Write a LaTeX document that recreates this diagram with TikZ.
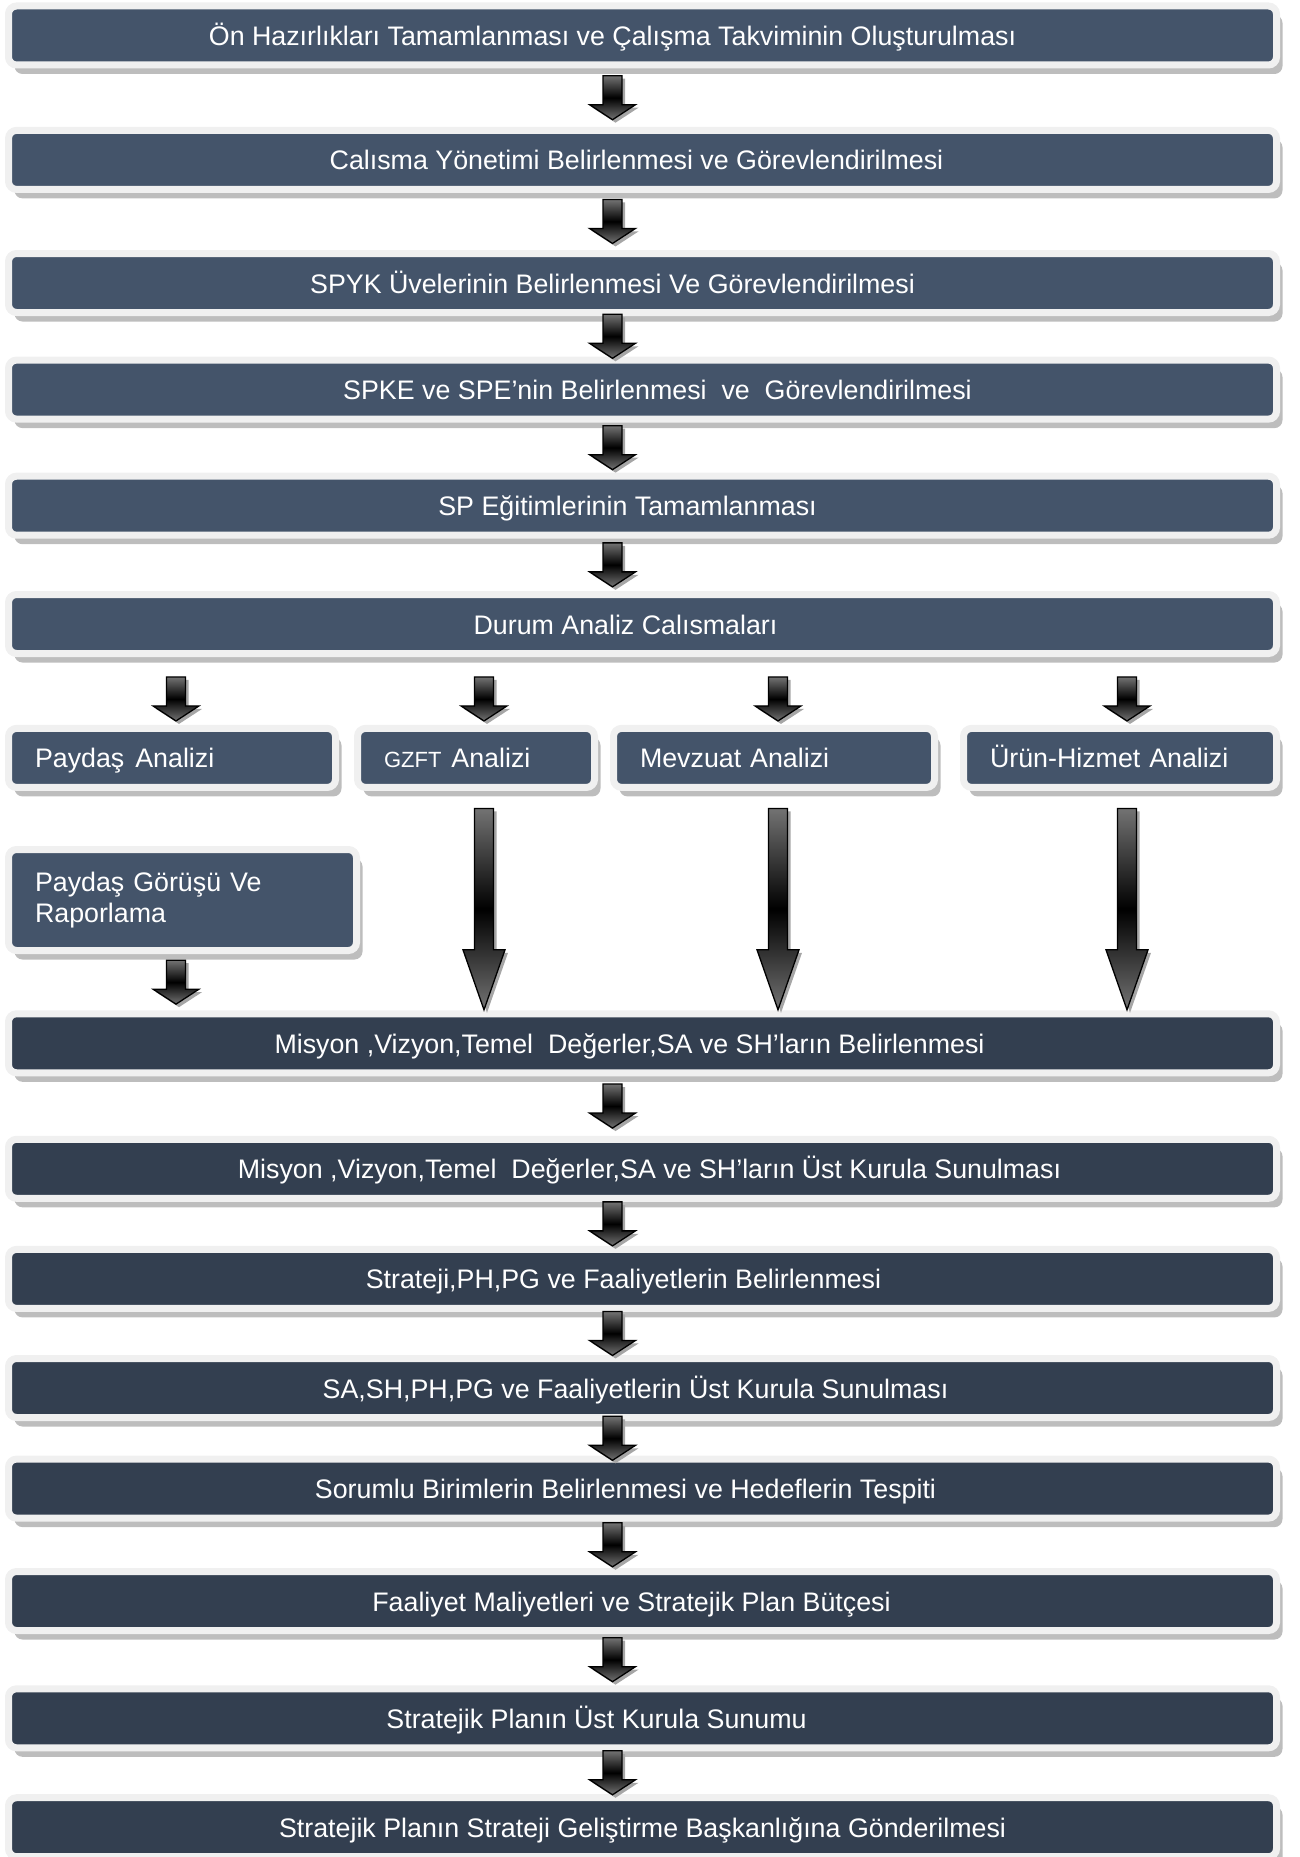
\documentclass[tikz,border=0pt]{standalone}
\usepackage{fontspec}
\setmainfont{Liberation Sans}
\usetikzlibrary{calc,shadows}

\definecolor{slate}{HTML}{44546A}
\definecolor{slatedark}{HTML}{333F50}
\definecolor{framegray}{HTML}{F0F0F0}
\definecolor{shadowgray}{HTML}{BDBDBD}

\tikzset{
  phase/.style={draw=framegray, line width=7pt, rounded corners=8pt, fill=slate, text=white,
    minimum width=1268pt, minimum height=59pt, inner sep=0pt, outer sep=0pt,
    text height=22pt, text depth=2pt,
    drop shadow={shadow xshift=6pt, shadow yshift=-9pt, fill=shadowgray, opacity=1}},
  darkphase/.style={phase, fill=slatedark},
  subphase/.style={phase, minimum width=0pt, align=left, inner xsep=26.5pt},
  arrowbody/.style={draw=black, line width=1.3pt, line join=miter, top color=black!55,
    bottom color=black!55, middle color=black,
    drop shadow={shadow xshift=3pt, shadow yshift=-3pt, fill=black!35, opacity=1}}
}

% moves a centred text sideways by #1
\newcommand{\nudge}[2]{\kern#1\kern#1#2}
% short block arrow, centred in the gap between two nodes
\newcommand{\flowarrow}[4][0]{%
  \path[arrowbody] let \p1=($(#3.south)!0.5!(#4.north)$) in
    (#2pt-9.5pt,\y1+22pt-#1pt) -- (#2pt+9.5pt,\y1+22pt-#1pt) -- (#2pt+9.5pt,\y1-7pt-#1pt)
    -- (#2pt+23pt,\y1-7pt-#1pt) -- (#2pt,\y1-22pt-#1pt) -- (#2pt-23pt,\y1-7pt-#1pt)
    -- (#2pt-9.5pt,\y1-7pt-#1pt) -- cycle;}
% long block arrow
\newcommand{\tallarrow}[3]{%
  \path[arrowbody] let \p1=(#2.south), \p2=(#3.north) in
    (#1pt-9.5pt,\y1-21pt) -- (#1pt+9.5pt,\y1-21pt) -- (#1pt+9.5pt,\y2+64pt)
    -- (#1pt+21pt,\y2+64pt) -- (#1pt,\y2+4pt) -- (#1pt-21pt,\y2+64pt)
    -- (#1pt-9.5pt,\y2+64pt) -- cycle;}

\begin{document}
\begin{tikzpicture}[x=1pt, y=-1pt, font=\fontsize{26.8}{31}\selectfont]
  \def \xbox{642.5}
  \def \xmid{612.5}
  \useasboundingbox (0,0) rectangle (1299,1857);

  \node[phase] (s1) at (\xbox,35.5) {\nudge{-30pt}{Ön Hazırlıkları Tamamlanması ve Çalışma Takviminin Oluşturulması}};
  \node[phase] (s2) at (\xbox,159.9) {\nudge{-6pt}{Calısma Yönetimi Belirlenmesi ve Görevlendirilmesi}};
  \node[phase] (s3) at (\xbox,283) {\nudge{-30pt}{SPYK Üvelerinin Belirlenmesi Ve Görevlendirilmesi}};
  \node[phase] (s4) at (\xbox,389.6) {\nudge{15pt}{SPKE ve SPE’nin Belirlenmesi\ \ ve\ \ Görevlendirilmesi}};
  \node[phase] (s5) at (\xbox,505.7) {\nudge{-15pt}{SP Eğitimlerinin Tamamlanması}};
  \node[phase] (s6) at (\xbox,624) {\nudge{-17pt}{Durum Analiz Calısmaları}};

  \node[subphase, text width=274pt] (pa) at (172,757.9) {Paydaş\hspace{11pt}Analizi};
  \node[subphase, text width=184pt] (gz) at (476,757.9) {{\fontsize{22}{24}\selectfont GZFT}\hspace{10pt}Analizi};
  \node[subphase, text width=268pt] (mv) at (774,757.9) {Mevzuat Analizi};
  \node[subphase, text width=260pt] (uh) at (1120,757.9) {Ürün-Hizmet Analizi};
  \node[subphase, text width=295pt, minimum height=101pt, text height={}, text depth={}] (pg) at (182.5,900) {Paydaş Görüşü Ve\\Raporlama};

  \node[darkphase] (s7) at (\xbox,1043.3) {\nudge{-13pt}{Misyon ,Vizyon,Temel\ \ Değerler,SA ve SH’ların Belirlenmesi}};
  \node[darkphase] (s8) at (\xbox,1168.8) {\nudge{7pt}{Misyon ,Vizyon,Temel\ \ Değerler,SA ve SH’ların Üst Kurula Sunulması}};
  \node[darkphase] (s9) at (\xbox,1278.9) {\nudge{-19pt}{Strateji,PH,PG ve Faaliyetlerin Belirlenmesi}};
  \node[darkphase] (s10) at (\xbox,1388) {\nudge{-7pt}{SA,SH,PH,PG ve Faaliyetlerin Üst Kurula Sunulması}};
  \node[darkphase] (s11) at (\xbox,1488.6) {\nudge{-17pt}{Sorumlu Birimlerin Belirlenmesi ve Hedeflerin Tespiti}};
  \node[darkphase] (s12) at (\xbox,1601) {\nudge{-11pt}{Faaliyet Maliyetleri ve Stratejik Plan Bütçesi}};
  \node[darkphase] (s13) at (\xbox,1718.3) {\nudge{-46pt}{Stratejik Planın Üst Kurula Sunumu}};
  \node[darkphase] (s14) at (\xbox,1827.2) {Stratejik Planın Strateji Geliştirme Başkanlığına Gönderilmesi};

  \flowarrow{\xmid}{s1}{s2}
  \flowarrow{\xmid}{s2}{s3}
  \flowarrow{\xmid}{s3}{s4}
  \flowarrow{\xmid}{s4}{s5}
  \flowarrow{\xmid}{s5}{s6}
  \flowarrow[8]{176}{s6}{pa}
  \flowarrow[8]{484}{s6}{gz}
  \flowarrow[8]{778}{s6}{mv}
  \flowarrow[8]{1127}{s6}{uh}
  \flowarrow{176}{pg}{s7}
  \tallarrow{484}{gz}{s7}
  \tallarrow{778}{mv}{s7}
  \tallarrow{1127}{uh}{s7}
  \flowarrow{\xmid}{s7}{s8}
  \flowarrow{\xmid}{s8}{s9}
  \flowarrow{\xmid}{s9}{s10}
  \flowarrow{\xmid}{s10}{s11}
  \flowarrow{\xmid}{s11}{s12}
  \flowarrow{\xmid}{s12}{s13}
  \flowarrow{\xmid}{s13}{s14}
\end{tikzpicture}
\end{document}
